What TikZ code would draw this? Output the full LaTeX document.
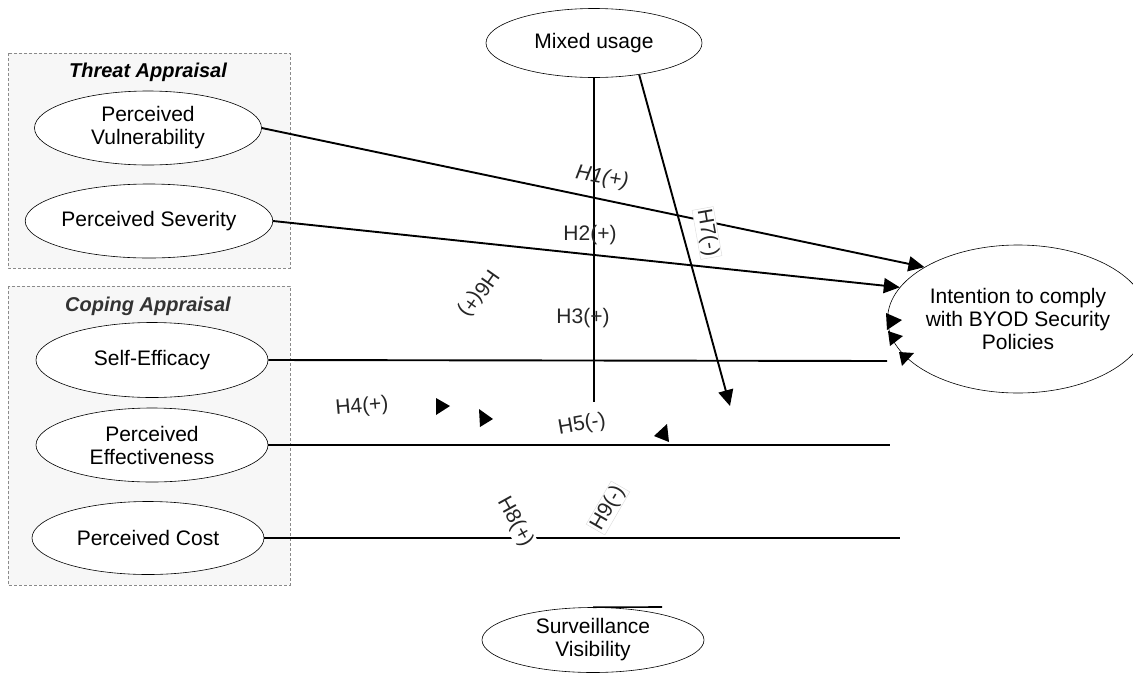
\documentclass[tikz,border=0pt]{standalone}
\usepackage{fontspec}
\setmainfont{Liberation Sans}
\usetikzlibrary{shapes.geometric,arrows.meta}
\definecolor{boxfill}{HTML}{F7F7F7}
\definecolor{boxline}{HTML}{8A8A8A}
\tikzset{
  construct/.style={ellipse,draw=black,line width=0.6pt,fill=white,inner sep=0pt,align=center,
     font=\fontsize{21}{23}\selectfont},
  groupbox/.style={draw=boxline,densely dashed,line width=0.6pt,fill=boxfill},
  grouptitle/.style={font=\fontsize{20}{22}\selectfont\bfseries\itshape},
  path/.style={line width=1.9pt,draw=black},
  arr/.style={path,-{Triangle[length=16pt,width=15pt]}},
  hyp/.style={font=\fontsize{21}{23}\selectfont,inner sep=1pt,text=black!85},
  hypbox/.style={hyp,fill=white,draw=black!15,line width=0.4pt},
  tipmark/.style={fill=black}
}
\begin{document}
\begin{tikzpicture}[x=1pt,y=-1pt]
\useasboundingbox (0,0) rectangle (1133,673);
% group boxes
\draw[groupbox] (8,53) rectangle (290,268);
\draw[groupbox] (8,286) rectangle (290,585);
\node[grouptitle] (tta) at (148,72) {Threat Appraisal};
\node[grouptitle,text=black!80] (tca) at (148,306) {Coping Appraisal};
% constructs
\node[construct,minimum width=227pt,minimum height=74pt] (pv) at (148,128) {Perceived\\Vulnerability};
\node[construct,minimum width=226pt,minimum height=74pt] (ps) at (149,221) {Perceived Severity};
\node[construct,minimum width=232pt,minimum height=75pt] (se) at (152,360) {Self-Efficacy};
\node[construct,minimum width=232pt,minimum height=74pt] (pe) at (152,445) {Perceived\\Effectiveness};
\node[construct,minimum width=232pt,minimum height=73pt] (pc) at (148,538) {Perceived Cost};
\node[construct,minimum width=216pt,minimum height=69pt] (mu) at (594,43) {Mixed usage};
\node[construct,minimum width=232pt,minimum height=148pt] (int) at (1018,319) {Intention to comply\\with BYOD Security\\Policies};
\node[construct,minimum width=222pt,minimum height=65pt] (sv) at (593,640) {Surveillance\\Visibility};
% free ends
\coordinate (muEnd) at (594,402);
\coordinate (muTip) at (730,406);
\coordinate (seEnd) at (887,361);
\coordinate (peEnd) at (890,445);
\coordinate (pcEnd) at (900,538);
\coordinate (svEnd) at (662,607);
% connectors
\draw[arr] (pv.east) -- (int.151);
\draw[arr] (ps.east) -- (int.165);
\draw[path] (se.east) -- (seEnd);
\draw[path] (pe.east) -- (peEnd);
\draw[path] (pc.east) -- (pcEnd);
\draw[path] (mu.south) -- (muEnd);
\draw[arr] (mu.-35) -- (muTip);
\draw[path,line width=1.6pt] (sv.north) -- (svEnd);
% stray arrowheads
\fill[tipmark] (436,398) -- (450,406) -- (436,415) -- cycle;
\fill[tipmark] (479,409) -- (493,419) -- (480,427) -- cycle;
\fill[tipmark] (667,424) -- (654,436) -- (669,442) -- cycle;
\fill[tipmark] (886,313) -- (902,320) -- (887,330) -- cycle;
\fill[tipmark] (888,331) -- (903,336) -- (890,346) -- cycle;
\fill[tipmark] (899,352) -- (914,353) -- (902,366) -- cycle;
% hypothesis labels
\node[hyp,font=\fontsize{21}{23}\selectfont\itshape,rotate=-10] (h1) at (602,178) {H1(+)};
\node[hyp] (h2) at (590,235) {H2(+)};
\node[hyp] (h3) at (583,318) {H3(+)};
\node[hyp,rotate=5] (h4) at (362,407) {H4(+)};
\node[hyp,rotate=10] (h5) at (582,425) {H5(-)};
\node[hyp,rotate=-125] (h6) at (478,293) {H6(+)};
\node[hypbox,rotate=-80] (h7) at (707,233) {H7(-)};
\node[hyp,fill=white,rotate=-61] (h8) at (515,522) {H8(+)};
\node[hypbox,rotate=60] (h9) at (608,508) {H9(-)};
\end{tikzpicture}
\end{document}
